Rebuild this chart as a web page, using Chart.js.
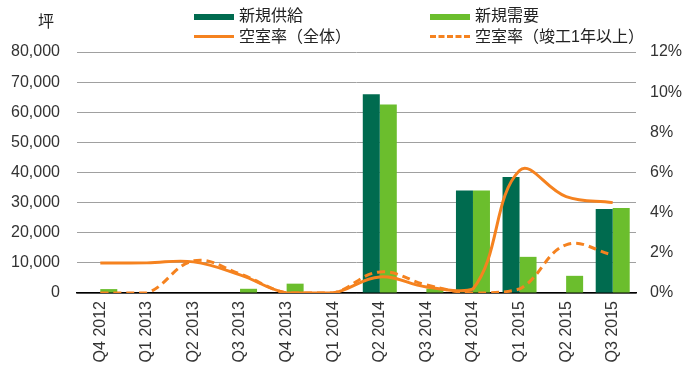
<!DOCTYPE html>
<html>
<head>
<meta charset="utf-8">
<script src="https://cdn.jsdelivr.net/npm/chart.js@4"></script>
<style>
  body { margin: 0; background: #fff; }
  #wrap { position: relative; width: 700px; height: 380px; font-family: "Liberation Sans", "Noto Sans CJK JP", sans-serif; color: #222; }
  .lg { position: absolute; font-size: 16px; line-height: 20px; white-space: nowrap; }
  .sw { position: absolute; width: 40px; }
</style>
</head>
<body>
<div id="wrap">
  <canvas id="myChart"></canvas>
  <div class="lg" style="left:38px; top:12px;">坪</div>
  <div class="sw" style="left:194px; top:14px; height:6px; background:#006b4f;"></div>
  <div class="lg" style="left:239px; top:6px;">新規供給</div>
  <div class="sw" style="left:430px; top:14px; height:6px; background:#6bbe2d;"></div>
  <div class="lg" style="left:475px; top:6px;">新規需要</div>
  <div class="sw" style="left:194px; top:35px; height:0; border-top:3px solid #f5821f;"></div>
  <div class="lg" style="left:239px; top:27px;">空室率（全体）</div>
  <div class="sw" style="left:430px; top:35px; height:0; border-top:3px dashed #f5821f;"></div>
  <div class="lg" style="left:475px; top:27px;">空室率（竣工1年以上）</div>
</div>
<script>
const ctx = document.getElementById('myChart');

const quarters = ["Q4 2012", "Q1 2013", "Q2 2013", "Q3 2013", "Q4 2013", "Q1 2014",
    "Q2 2014", "Q3 2014", "Q4 2014", "Q1 2015", "Q2 2015", "Q3 2015"];

// 坪
const newSupply = [0, 0, 0, 0, 0, 0, 66000, 0, 34000, 38500, 0, 27900];
const newDemand = [1300, 0, 0, 1400, 3100, 0, 62600, 1500, 34000, 12000, 5700, 28200];

// %
const vacancyAll = [1.5, 1.5, 1.55, 0.9, 0, 0, 0.8, 0.3, 0.2, 6.1, 4.8, 4.5];
const vacancyOld = [0, 0, 1.6, 0.95, 0, 0, 1.05, 0.4, 0, 0.2, 2.4, 1.9];

Chart.defaults.font.family = '"Liberation Sans", "Noto Sans CJK JP", sans-serif';
Chart.defaults.font.size = 16;
Chart.defaults.color = '#333';

const chartData = {
    labels: quarters,
    datasets: [
        {
            label: '新規供給',
            type: 'bar',
            backgroundColor: '#006b4f',
            data: newSupply,
            yAxisID: 'y',
            order: 1,
        },
        {
            label: '新規需要',
            type: 'bar',
            backgroundColor: '#6bbe2d',
            data: newDemand,
            yAxisID: 'y',
            order: 1,
        },
        {
            label: '空室率（全体）',
            type: 'line',
            borderColor: '#f5821f',
            borderWidth: 3,
            pointRadius: 0,
            tension: 0.4,
            data: vacancyAll,
            yAxisID: 'y1',
            order: 0,
        },
        {
            label: '空室率（竣工1年以上）',
            type: 'line',
            borderColor: '#f5821f',
            borderWidth: 3,
            borderDash: [8, 5],
            pointRadius: 0,
            tension: 0.4,
            data: vacancyOld,
            yAxisID: 'y1',
            order: 0,
        },
    ]
}

const chartDemo = new Chart(ctx, {
    type: 'bar',
    data: chartData,
    options: {
        responsive: true,
        maintainAspectRatio: false,
        animation: false,
        categoryPercentage: 0.73,
        barPercentage: 1,
        layout: {
            padding: { top: 52, left: 0, right: 0, bottom: 0 }
        },
        plugins: {
            legend: { display: false },
            tooltip: { enabled: false },
        },
        scales: {
            x: {
                grid: { display: false, drawTicks: false },
                border: { display: true, color: '#000', width: 1.5 },
                ticks: { minRotation: 90, maxRotation: 90, padding: 8 },
                afterFit: function (scale) { scale.height = 87; },
            },
            y: {
                type: 'linear',
                position: 'left',
                min: 0,
                max: 80000,
                ticks: {
                    stepSize: 10000,
                    padding: 17,
                    callback: function (v) { return v.toLocaleString('en-US'); },
                },
                grid: { color: '#a0a0a0', lineWidth: 1, drawTicks: false },
                border: { display: false },
                afterFit: function (scale) { scale.width = 77; },
            },
            y1: {
                type: 'linear',
                position: 'right',
                min: 0,
                max: 12,
                ticks: {
                    stepSize: 2,
                    padding: 14,
                    callback: function (v) { return v + '%'; },
                },
                grid: {
                    drawOnChartArea: false, // only the left axis draws grid lines
                    drawTicks: false,
                },
                border: { display: false },
                afterFit: function (scale) { scale.width = 64; },
            },
        }
    }
})
</script>
</body>
</html>
